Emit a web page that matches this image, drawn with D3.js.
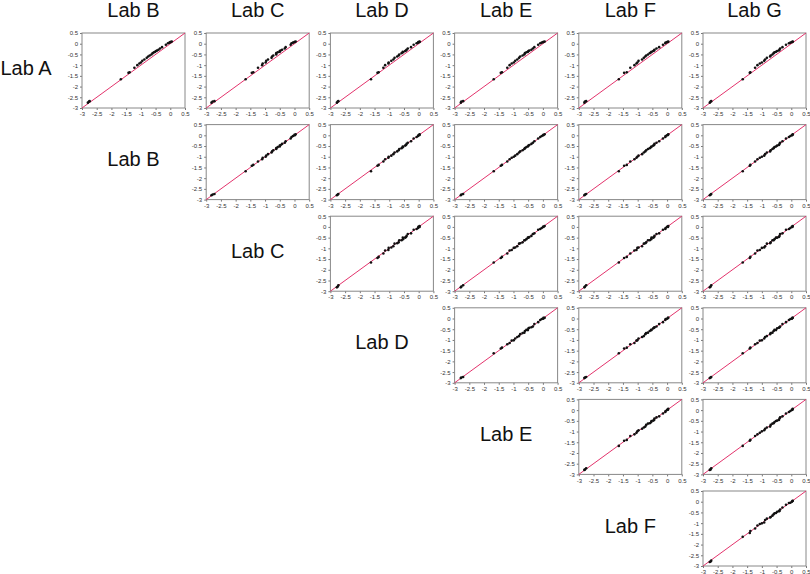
<!DOCTYPE html>
<html>
<head>
<meta charset="utf-8">
<script src="https://cdn.jsdelivr.net/npm/d3@7"></script>
<style>
  body { margin: 0; background: #fff; }
  text { font-family: Arial, "Liberation Sans", sans-serif; }
</style>
</head>
<body>
<svg id="chart" width="810" height="574"></svg>
<script>
// lab names: rows are Lab A..F, columns are Lab B..G
var rowLabs = ["Lab A", "Lab B", "Lab C", "Lab D", "Lab E", "Lab F"];
var colLabs = ["Lab B", "Lab C", "Lab D", "Lab E", "Lab F", "Lab G"];
var ticks = [-3, -2.5, -2, -1.5, -1, -0.5, 0, 0.5];

// log values measured by each lab on the same samples
var labA = [-2.75, -2.70, -2.68, -1.66, -1.36, -1.33, -1.12, -1.00, -0.92, -0.88, -0.80, -0.74, -0.66, -0.60, -0.55, -0.50, -0.44, -0.40, -0.38, -0.34, -0.32, -0.28, -0.22, -0.16, -0.05, 0.02, 0.05, 0.08, 0.08, 0.10];
var labB = [-2.80, -2.76, -2.74, -1.68, -1.42, -1.38, -1.22, -1.12, -1.05, -1.00, -0.95, -0.88, -0.80, -0.75, -0.70, -0.64, -0.60, -0.55, -0.52, -0.48, -0.45, -0.40, -0.35, -0.28, -0.15, -0.08, -0.03, 0.00, 0.02, 0.05];
var labC = [-2.82, -2.78, -2.72, -1.66, -1.45, -1.40, -1.24, -1.10, -1.08, -0.98, -0.96, -0.90, -0.78, -0.76, -0.72, -0.62, -0.62, -0.57, -0.50, -0.50, -0.47, -0.42, -0.33, -0.30, -0.13, -0.10, -0.05, 0.01, 0.00, 0.04];
var labD = [-2.78, -2.75, -2.73, -1.62, -1.40, -1.36, -1.20, -1.14, -1.03, -1.02, -0.93, -0.86, -0.82, -0.73, -0.68, -0.66, -0.58, -0.53, -0.54, -0.46, -0.43, -0.41, -0.37, -0.26, -0.17, -0.07, -0.02, -0.01, 0.03, 0.03];
var labE = [-2.79, -2.77, -2.71, -1.67, -1.43, -1.39, -1.21, -1.13, -1.06, -0.99, -0.94, -0.87, -0.81, -0.77, -0.69, -0.63, -0.61, -0.56, -0.51, -0.49, -0.46, -0.39, -0.34, -0.29, -0.16, -0.09, -0.04, 0.01, 0.02, 0.06];
var labF = [-2.81, -2.79, -2.75, -1.64, -1.46, -1.37, -1.25, -1.11, -1.04, -1.01, -0.97, -0.85, -0.79, -0.74, -0.71, -0.65, -0.59, -0.54, -0.53, -0.47, -0.44, -0.43, -0.36, -0.27, -0.14, -0.06, -0.05, 0.00, 0.03, 0.04];
var labG = [-2.77, -2.74, -2.72, -1.65, -1.41, -1.39, -1.23, -1.15, -1.07, -1.00, -0.92, -0.89, -0.83, -0.72, -0.70, -0.64, -0.60, -0.57, -0.52, -0.48, -0.42, -0.40, -0.38, -0.30, -0.18, -0.08, -0.03, 0.02, 0.04, 0.05];

var labValues = {
    "Lab A": labA, "Lab B": labB, "Lab C": labC, "Lab D": labD,
    "Lab E": labE, "Lab F": labF, "Lab G": labG
};

var svg = d3.select("#chart");
var panelW = 103, panelH = 75;
// panel grid positions
var colX = d3.scaleLinear().domain([0, 5]).range([82, 703]);
var rowY = d3.scaleLinear().domain([0, 5]).range([33, 491]);

var x = d3.scaleLinear().domain([-3, 0.5]).range([0, panelW]);
var y = d3.scaleLinear().domain([-3, 0.5]).range([panelH, 0]);

function fmt(d) { return String(d); }

// column headers
svg.selectAll("text.colhead").data(colLabs).enter().append("text")
    .attr("class", "colhead")
    .attr("x", function (d, i) { return colX(i) + panelW / 2; })
    .attr("y", 17)
    .attr("text-anchor", "middle")
    .attr("font-size", 20)
    .attr("fill", "#111")
    .text(function (d) { return d; });

// row labels, sitting in the empty cell left of each row's first panel
svg.selectAll("text.rowhead").data(rowLabs).enter().append("text")
    .attr("class", "rowhead")
    .attr("x", function (d, i) { return i === 0 ? 26 : colX(i - 1) + panelW / 2; })
    .attr("y", function (d, i) { return rowY(i) + panelH / 2 + 4; })
    .attr("text-anchor", "middle")
    .attr("font-size", 20)
    .attr("fill", "#111")
    .text(function (d) { return d; });

rowLabs.forEach(function (rowLab, r) {
    for (var c = r; c < colLabs.length; c++) {
        var colLab = colLabs[c];
        var g = svg.append("g")
            .attr("transform", "translate(" + colX(c) + "," + rowY(r) + ")");

        var xAxis = g.append("g")
            .attr("transform", "translate(0," + panelH + ")")
            .call(d3.axisBottom(x).tickValues(ticks).tickSize(2).tickPadding(2).tickFormat(fmt));
        var yAxis = g.append("g")
            .call(d3.axisLeft(y).tickValues(ticks).tickSize(2).tickPadding(2).tickFormat(fmt));
        [xAxis, yAxis].forEach(function (a) {
            a.select(".domain").remove();
            a.selectAll("line").attr("stroke", "#777");
            a.selectAll("text").attr("font-size", 6).attr("fill", "#333")
                .attr("font-family", "Arial, 'Liberation Sans', sans-serif");
        });

        g.append("rect")
            .attr("width", panelW)
            .attr("height", panelH)
            .attr("fill", "none")
            .attr("stroke", "#888")
            .attr("stroke-width", 1);

        g.append("line")
            .attr("x1", x(-3)).attr("y1", y(-3))
            .attr("x2", x(0.5)).attr("y2", y(0.5))
            .attr("stroke", "#e3336c")
            .attr("stroke-width", 1);

        var xs = labValues[colLab], ys = labValues[rowLab];
        g.selectAll("circle").data(d3.range(xs.length)).enter().append("circle")
            .attr("cx", function (k) { return x(xs[k]); })
            .attr("cy", function (k) { return y(ys[k]); })
            .attr("r", 1.3)
            .attr("fill", "#111");
    }
});
</script>
</body>
</html>
